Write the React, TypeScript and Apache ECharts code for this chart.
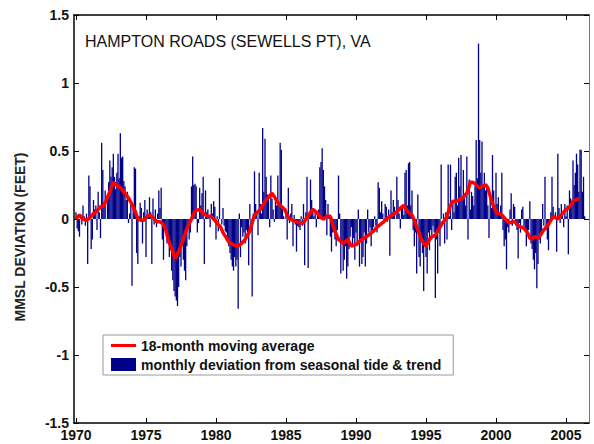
import React, { useEffect, useRef } from 'react';
import * as echarts from 'echarts';

// Monthly deviation from seasonal tide & trend (feet), Jan 1970 onward
const dev1970s = [
  0.05, -0.07, -0.09, -0.13, 0.03, -0.04, 0.1, 0.02, -0.05, 0.04, -0.33, 0.32,
  0.24, -0.22, -0.15, 0.14, 0.07, 0.1, -0.08, 0.2, 0.05, -0.14, 0.56, 0.36,
  0.12, 0.21, 0.0, 0.15, 0.27, 0.43, 0.31, 0.38, 0.48, 0.31, 0.22, 0.34,
  0.48, 0.3, 0.63, 0.45, 0.46, 0.28, 0.24, 0.14, 0.2, -0.03, 0.04, 0.12,
  -0.49, 0.1, 0.38, 0.37, -0.25, -0.33, 0.02, 0.12, 0.08, -0.18, 0.05, 0.14,
  -0.28, 0.07, 0.02, 0.16, 0.05, -0.33, 0.15, -0.04, 0.07, -0.06, 0.04, 0.21,
  0.08, 0.23, -0.15, -0.3, -0.05, -0.08, -0.18, -0.12, -0.28, -0.22, -0.38, -0.45,
  -0.53, -0.57, -0.6, -0.64, -0.5, -0.28, -0.35, -0.2, -0.3, -0.38, -0.45, -0.2,
  -0.06, -0.15, -0.1, 0.24, 0.46, 0.25, 0.26, 0.24, -0.1, -0.03, 0.23, 0.1,
  0.19, 0.31, -0.33, 0.21, 0.05, 0.07, 0.03, -0.06, 0.11, 0.04, 0.13, 0.09,
];
const dev1980s = [
  -0.15, 0.02, -0.09, 0.3, 0.0, -0.04, 0.08, -0.05, -0.09, -0.1, -0.15, -0.2,
  -0.25, -0.3, -0.35, -0.38, -0.28, -0.35, -0.3, -0.66, 0.04, -0.28, -0.06, -0.13,
  -0.1, -0.18, -0.08, -0.12, -0.34, 0.11, -0.05, -0.57, 0.04, 0.35, 0.11, 0.05,
  -0.12, 0.34, 0.11, 0.04, 0.67, 0.2, 0.59, 0.31, 0.18, 0.14, -0.06, 0.32,
  0.15, 0.07, -0.02, 0.14, 0.1, 0.32, 0.12, 0.56, 0.51, 0.08, 0.02, 0.0,
  0.05, -0.15, 0.23, -0.03, 0.04, 0.11, -0.2, 0.03, -0.04, -0.24, -0.05, -0.06,
  -0.08, 0.02, -0.05, 0.11, -0.34, 0.05, 0.31, -0.36, 0.05, 0.29, 0.14, 0.08,
  0.02, 0.05, -0.06, 0.03, 0.07, 0.38, 0.42, 0.52, 0.36, 0.24, 0.14, -0.12,
  0.11, 0.03, -0.13, -0.24, -0.1, -0.05, -0.15, -0.2, -0.08, 0.32, 0.04, -0.4,
  -0.18, -0.38, -0.3, -0.2, -0.44, -0.35, -0.22, -0.13, -0.06, -0.2, -0.14, -0.3,
];
const dev1990s = [
  -0.1, -0.2, 0.07, -0.35, -0.15, -0.33, -0.28, -0.1, -0.35, -0.18, 0.07, -0.1,
  -0.06, -0.2, -0.1, -0.06, 0.02, -0.05, -0.1, 0.27, 0.23, 0.05, 0.13, 0.04,
  -0.03, 0.11, 0.09, -0.02, 0.07, -0.27, 0.21, 0.05, 0.14, 0.09, 0.0, 0.31,
  0.14, 0.04, -0.07, 0.09, 0.09, 0.03, 0.34, 0.36, 0.1, 0.41, 0.42, 0.1,
  0.21, -0.08, -0.2, -0.1, -0.4, 0.18, -0.28, -0.35, -0.15, -0.25, -0.53, -0.2,
  -0.28, -0.4, -0.1, -0.23, -0.08, -0.15, -0.05, -0.1, -0.58, -0.15, -0.4, -0.1,
  -0.2, 0.4, 0.0, 0.04, -0.18, 0.05, -0.15, 0.4, 0.02, 0.4, -0.08, 0.12,
  0.05, 0.31, 0.34, 0.1, 0.45, 0.24, 0.47, 0.15, 0.36, 0.19, 0.1, 0.46,
  -0.15, 0.29, 0.07, 0.2, 0.17, 0.1, 0.24, 0.58, 0.3, 1.29, 0.58, 0.34,
  0.57, 0.25, 0.34, 0.21, 0.26, 0.1, -0.14, 0.19, 0.08, 0.47, 0.21, 0.1,
];
const dev2000s = [
  0.34, 0.11, 0.16, 0.05, 0.1, 0.34, -0.08, -0.2, -0.15, -0.37, -0.06, -0.1,
  0.07, 0.19, -0.05, 0.11, 0.09, -0.05, -0.08, -0.29, -0.03, -0.1, 0.07, 0.09,
  -0.05, -0.08, -0.2, -0.12, -0.08, 0.13, -0.18, -0.22, -0.3, -0.37, -0.25, -0.51,
  -0.33, -0.15, -0.18, -0.11, 0.11, -0.05, 0.31, -0.08, -0.15, -0.23, -0.03, 0.05,
  0.31, 0.09, 0.0, 0.05, -0.24, 0.48, 0.08, -0.03, 0.11, 0.05, -0.06, 0.11,
  0.02, 0.1, -0.26, 0.21, 0.15, 0.1, 0.43, 0.25, 0.34, 0.48, 0.4, 0.2,
  0.51, 0.51, 0.2, 0.31, 0.02,
];

// 18-month moving average: month index (from Jan 1970) and value
const maMonths = [
  0, 3, 6, 9, 12, 15, 18, 21, 24, 26, 29, 32, 35, 38, 41, 43, 46, 49, 51, 53,
  56, 58, 61, 63, 66, 69, 72, 75, 77, 79, 82, 85, 88, 92, 95, 99, 102, 106, 109, 113,
  116, 118, 121, 124, 126, 129, 131, 135, 139, 142, 145, 149, 151, 153, 158, 160, 162, 165, 168, 171,
  173, 175, 179, 181, 183, 186, 189, 192, 195, 197, 199, 201, 203, 206, 208, 210, 212, 215, 218, 221,
  225, 229, 233, 236, 239, 241, 245, 249, 252, 255, 258, 261, 264, 266, 269, 271, 273, 276, 278, 281,
  283, 286, 288, 290, 292, 294, 296, 298, 300, 303, 305, 308, 310, 312, 314, 316, 318, 321, 323, 326,
  328, 331, 333, 335, 337, 338, 340, 342, 344, 346, 348, 351, 353, 356, 358, 361, 363, 365, 368, 370,
  372, 374, 376, 378, 381, 383, 385, 387, 389, 391, 393, 396, 398, 401, 403, 405, 407, 409, 411, 413,
  416, 418, 420, 422, 424, 426, 428, 431,
];
const maValues = [
  0, 0.03, 0.0, -0.01, 0.01, 0.04, 0.06, 0.09, 0.1, 0.14, 0.2, 0.27, 0.25, 0.23, 0.2, 0.18, 0.14, 0.09, 0.05, 0.0,
  -0.01, -0.01, 0.02, 0.03, 0.01, -0.02, -0.02, -0.04, -0.08, -0.15, -0.22, -0.29, -0.24, -0.15, -0.07, 0.0, 0.06, 0.07, 0.04, 0.02,
  0.02, 0.0, -0.03, -0.06, -0.1, -0.14, -0.17, -0.19, -0.2, -0.18, -0.15, -0.09, -0.03, 0.03, 0.07, 0.1, 0.13, 0.16, 0.19, 0.15,
  0.12, 0.1, 0.07, 0.03, 0.0, -0.01, -0.02, -0.03, -0.03, 0.0, 0.02, 0.05, 0.07, 0.05, 0.03, 0.01, 0.0, 0.02, 0.02, -0.07,
  -0.15, -0.18, -0.15, -0.2, -0.19, -0.18, -0.15, -0.13, -0.11, -0.09, -0.06, -0.04, -0.02, 0.0, 0.02, 0.03, 0.04, 0.06, 0.08, 0.1,
  0.07, 0.04, 0.03, -0.01, -0.06, -0.1, -0.15, -0.18, -0.2, -0.15, -0.13, -0.12, -0.09, -0.06, -0.03, -0.01, 0.02, 0.1, 0.13, 0.13,
  0.14, 0.15, 0.17, 0.19, 0.24, 0.27, 0.27, 0.26, 0.24, 0.23, 0.24, 0.25, 0.23, 0.14, 0.09, 0.04, 0.04, 0.03, 0.0, -0.02,
  -0.03, -0.02, -0.02, -0.04, -0.06, -0.06, -0.08, -0.1, -0.14, -0.15, -0.13, -0.14, -0.12, -0.08, -0.06, -0.04, -0.01, 0.02, 0.01, 0.0,
  0.03, 0.05, 0.07, 0.08, 0.1, 0.13, 0.14, 0.15,
];

const yearTicks = [1970, 1975, 1980, 1985, 1990, 1995, 2000, 2005];

const TITLE = 'HAMPTON ROADS (SEWELLS PT), VA';
const Y_NAME = 'MMSL DEVIATION (FEET)';
const MA_NAME = '18-month moving average';
const BAR_NAME = 'monthly deviation from seasonal tide & trend';

const FONT = "'Liberation Sans', Arial, Helvetica, sans-serif";

export default function App() {
  const ref = useRef<HTMLDivElement>(null);
  useEffect(() => {
    if (!ref.current) return;
    const chart = echarts.init(ref.current, undefined, { renderer: 'svg' });
    const monthly = [...dev1970s, ...dev1980s, ...dev1990s, ...dev2000s];
    const barData = monthly.map((v, i) => [1970 + i / 12, v]);
    const maData = maMonths.map((m, i) => [1970 + m / 12, maValues[i]]);
    const xMin = 1970 - 2 / 14;
    const xMax = 1970 + 513 / 14;
    const tick = { show: true, inside: true, length: 5, lineStyle: { color: '#000', width: 1 } };
    const line = (c: string, w: number) => ({ show: true, onZero: false, lineStyle: { color: c, width: w } });
    const labelStyle = { fontFamily: FONT, fontSize: 14, fontWeight: 'bold', color: '#111' };
    chart.setOption({
      animation: false,
      backgroundColor: '#fff',
      grid: { left: 74, top: 15, right: 5, bottom: 21, containLabel: false, outerBoundsMode: 'none' },
      xAxis: [
        {
          type: 'value', min: xMin, max: xMax, position: 'bottom',
          axisLine: line('#000', 1.5),
          axisTick: { ...tick, customValues: yearTicks },
          axisLabel: { ...labelStyle, margin: 5, customValues: yearTicks, formatter: (v: number) => String(Math.round(v)) },
          splitLine: { show: false },
        },
        {
          type: 'value', min: xMin, max: xMax, position: 'top',
          axisLine: line('#000', 1.5),
          axisTick: { ...tick, customValues: yearTicks },
          axisLabel: { show: false, customValues: yearTicks },
          splitLine: { show: false },
        },
      ],
      yAxis: [
        {
          type: 'value', min: -1.5, max: 1.5, interval: 0.5, position: 'left',
          axisLine: line('#000', 1.5),
          axisTick: tick,
          axisLabel: { ...labelStyle, margin: 5 },
          splitLine: { show: false },
        },
        {
          type: 'value', min: -1.5, max: 1.5, interval: 0.5, position: 'right',
          axisLine: line('#777', 1),
          axisTick: tick,
          axisLabel: { show: false },
          splitLine: { show: false },
        },
      ],
      legend: {
        orient: 'vertical', left: 103, top: 335,
        padding: [3.5, 12, 3.5, 8],
        itemGap: 5, itemWidth: 25, itemHeight: 13,
        borderColor: '#999', borderWidth: 1, backgroundColor: '#fff',
        selectedMode: false,
        textStyle: { fontFamily: FONT, fontSize: 14, fontWeight: 'bold', color: '#111' },
        data: [
          { name: MA_NAME, icon: 'path://M0,0 L25,0 L25,3 L0,3 Z', itemStyle: { color: '#ff0000', borderWidth: 0 } },
          { name: BAR_NAME, icon: 'rect' },
        ],
      },
      graphic: [
        {
          type: 'text', left: 85, top: 33,
          style: { text: TITLE, font: `16px ${FONT}`, fill: '#111' },
        },
        {
          type: 'text', x: 19.5, y: 237, rotation: Math.PI / 2,
          style: { text: Y_NAME, font: `bold 14px ${FONT}`, fill: '#222', align: 'center', verticalAlign: 'middle' },
        },
      ],
      series: [
        {
          name: BAR_NAME, type: 'bar', xAxisIndex: 0, yAxisIndex: 0,
          data: barData, barWidth: 1.3,
          itemStyle: { color: '#000088' },
          z: 2,
        },
        {
          name: MA_NAME, type: 'line', xAxisIndex: 0, yAxisIndex: 0,
          data: maData, symbol: 'none', showSymbol: false, smooth: false,
          lineStyle: { color: '#ff0000', width: 3.5 },
          itemStyle: { color: '#ff0000' },
          z: 3,
        },
      ],
    });
    return () => chart.dispose();
  }, []);
  return (
    <div
      ref={ref}
      style={{ position: 'fixed', left: 0, top: 0, width: 594, height: 444, background: '#fff' }}
    />
  );
}
